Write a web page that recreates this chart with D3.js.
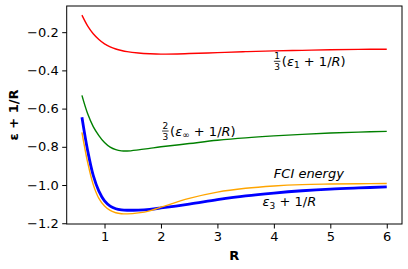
<!DOCTYPE html>
<html lang="en">
<head>
<meta charset="UTF-8">
<title>Energy curves</title>
<script src="https://d3js.org/d3.v7.min.js"></script>
<style>
  body { margin: 0; background: #fff; }
  text { font-family: "DejaVu Sans", sans-serif; }
</style>
</head>
<body>
<div id="plot-container"></div>
<script>
// R grid and curves
const R = [0.6, 0.7, 0.8, 0.9, 1.0, 1.1, 1.2, 1.3, 1.4, 1.6, 1.8, 2.0, 2.5, 3.0, 3.5, 4.0, 4.5, 5.0, 5.5, 6.0];
const eps1 = [-0.111, -0.167, -0.208, -0.238, -0.261, -0.277, -0.288, -0.296, -0.302, -0.309, -0.313, -0.315, -0.312, -0.307, -0.302, -0.298, -0.295, -0.292, -0.290, -0.289];
const epsInf = [-0.531, -0.626, -0.694, -0.741, -0.778, -0.802, -0.815, -0.821, -0.822, -0.816, -0.808, -0.800, -0.783, -0.766, -0.753, -0.743, -0.735, -0.728, -0.723, -0.719];
const eps3 = [-0.645, -0.818, -0.950, -1.032, -1.083, -1.110, -1.124, -1.130, -1.132, -1.131, -1.127, -1.120, -1.100, -1.077, -1.057, -1.042, -1.030, -1.021, -1.015, -1.010];
const fci = [-0.724, -0.88, -0.998, -1.070, -1.110, -1.133, -1.145, -1.150, -1.151, -1.146, -1.135, -1.116, -1.070, -1.037, -1.017, -1.005, -0.998, -0.995, -0.993, -0.992];
const xTicks = [1, 2, 3, 4, 5, 6];
const yTicks = [-1.2, -1.0, -0.8, -0.6, -0.4, -0.2];

const W = 408, H = 269;
const mLeft = 66.7, mRight = 402, mTop = 6, mBottom = 224;

const svg = d3.select("#plot-container").append("svg")
    .attr("width", W).attr("height", H);

const x = d3.scaleLinear().domain([0.33, 6.27]).range([mLeft, mRight]);
const y = d3.scaleLinear().domain([-1.204, -0.063]).range([mBottom, mTop]);

const line = d3.line()
    .x(d => x(d[0])).y(d => y(d[1]))
    .curve(d3.curveCatmullRom.alpha(0.5));

// curves
const series = [
    { v: eps1, c: "red", w: 1.4 },
    { v: epsInf, c: "green", w: 1.4 },
    { v: eps3, c: "blue", w: 2.8 },
    { v: fci, c: "orange", w: 1.4 }
];
series.forEach(s => {
    svg.append("path")
        .datum(R.map((r, i) => [r, s.v[i]]))
        .attr("d", line)
        .attr("fill", "none")
        .attr("stroke", s.c)
        .attr("stroke-width", s.w);
});

// axes
svg.append("g")
    .attr("transform", `translate(0,${mBottom})`)
    .call(d3.axisBottom(x).tickValues(xTicks).tickFormat(d3.format("d")).tickSize(4.5).tickPadding(3.5))
    .call(g => g.select(".domain").remove())
    .selectAll("text").attr("font-size", 13).attr("fill", "#000")
    .attr("font-family", "DejaVu Sans");

svg.append("g")
    .attr("transform", `translate(${mLeft},0)`)
    .call(d3.axisLeft(y).tickValues(yTicks).tickFormat(d3.format(".1f")).tickSize(4.5).tickPadding(3.5))
    .call(g => g.select(".domain").remove())
    .selectAll("text").attr("font-size", 13).attr("fill", "#000")
    .attr("font-family", "DejaVu Sans");

svg.append("rect")
    .attr("x", mLeft).attr("y", mTop)
    .attr("width", mRight - mLeft).attr("height", mBottom - mTop)
    .attr("fill", "none").attr("stroke", "#000").attr("stroke-width", 1);

// axis titles
svg.append("text")
    .attr("x", (mLeft + mRight) / 2).attr("y", 260)
    .attr("text-anchor", "middle").attr("font-size", 13).attr("font-weight", "bold")
    .text("R");

svg.append("text")
    .attr("transform", `translate(18,${(mTop + mBottom) / 2}) rotate(-90)`)
    .attr("text-anchor", "middle").attr("font-size", 13).attr("font-weight", "bold")
    .text("ε + 1/R");

// annotations
function fracLabel(rx, ry, num, den, sub) {
    const px = x(rx), py = y(ry);
    const g = svg.append("g");
    g.append("text").attr("x", px + 3.2).attr("y", py - 6.5)
        .attr("text-anchor", "middle").attr("font-size", 9).text(num);
    g.append("line").attr("x1", px).attr("x2", px + 6.5)
        .attr("y1", py - 4.5).attr("y2", py - 4.5)
        .attr("stroke", "#000").attr("stroke-width", 0.8);
    g.append("text").attr("x", px + 3.2).attr("y", py + 4.5)
        .attr("text-anchor", "middle").attr("font-size", 9).text(den);
    const t = g.append("text").attr("x", px + 8).attr("y", py).attr("font-size", 13);
    t.append("tspan").text("(");
    t.append("tspan").attr("font-style", "italic").text("ε");
    t.append("tspan").attr("font-size", 9).attr("dy", 2.5).text(sub);
    t.append("tspan").attr("dy", -2.5).text(" + 1/");
    t.append("tspan").attr("font-style", "italic").text("R");
    t.append("tspan").text(")");
}
fracLabel(4.0, -0.376, "1", "3", "1");
fracLabel(2.02, -0.741, "2", "3", "∞");

svg.append("text")
    .attr("x", x(4.0)).attr("y", y(-0.961))
    .attr("font-size", 13).attr("font-style", "italic")
    .text("FCI energy");

const e3 = svg.append("text")
    .attr("x", x(3.8)).attr("y", y(-1.112))
    .attr("font-size", 13);
e3.append("tspan").attr("font-style", "italic").text("ε");
e3.append("tspan").attr("font-size", 9).attr("dy", 2.5).text("3");
e3.append("tspan").attr("dy", -2.5).text(" + 1/");
e3.append("tspan").attr("font-style", "italic").text("R");
</script>
</body>
</html>
